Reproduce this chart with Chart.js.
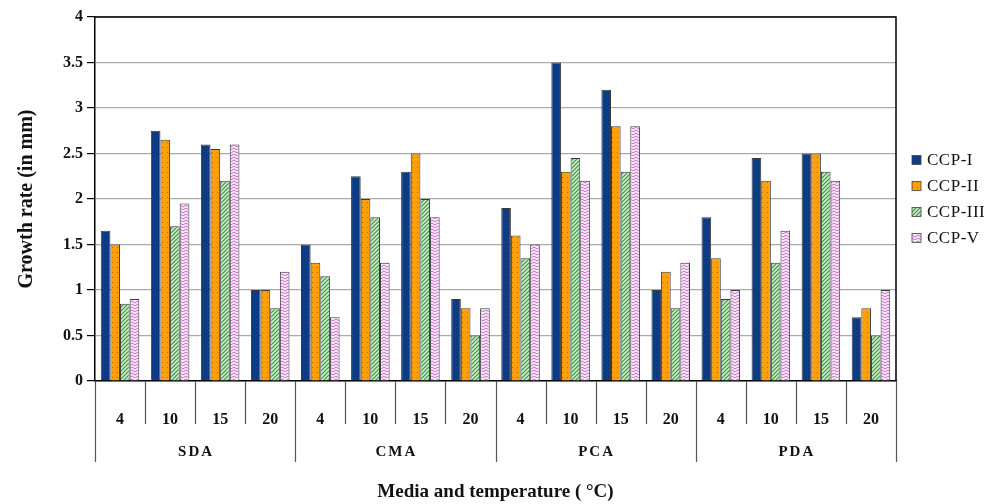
<!DOCTYPE html>
<html>
<head>
<meta charset="utf-8">
<script src="https://cdn.jsdelivr.net/npm/chart.js@4"></script>
<style>
  html, body { margin: 0; padding: 0; background: #fff; }
  #wrap { width: 998px; height: 504px; position: relative; }
</style>
</head>
<body>
<div id="wrap"><canvas id="chart" width="998" height="504"></canvas></div>
<script>
const media = ["SDA", "CMA", "PCA", "PDA"];
const temps = ["4", "10", "15", "20"];
const yTicks = [0, 0.5, 1, 1.5, 2, 2.5, 3, 3.5, 4];

// values in order SDA 4,10,15,20 / CMA ... / PCA ... / PDA ...
const ccp1 = [1.65, 2.75, 2.6, 1.0,  1.5, 2.25, 2.3, 0.9,  1.9, 3.5, 3.2, 1.0,  1.8, 2.45, 2.5, 0.7];
const ccp2 = [1.5, 2.65, 2.55, 1.0,  1.3, 2.0, 2.5, 0.8,   1.6, 2.3, 2.8, 1.2,  1.35, 2.2, 2.5, 0.8];
const ccp3 = [0.85, 1.7, 2.2, 0.8,   1.15, 1.8, 2.0, 0.5,  1.35, 2.45, 2.3, 0.8, 0.9, 1.3, 2.3, 0.5];
const ccp5 = [0.9, 1.95, 2.6, 1.2,   0.7, 1.3, 1.8, 0.8,   1.5, 2.2, 2.8, 1.3,  1.0, 1.65, 2.2, 1.0];

const labels = [];
media.forEach(() => temps.forEach(t => labels.push(t)));

const serif = "'Liberation Serif', 'DejaVu Serif', serif";

// fill patterns like the original Excel chart
function makePattern(bg, size, draw) {
  const c = document.createElement("canvas");
  c.width = size; c.height = size;
  const g = c.getContext("2d");
  g.fillStyle = bg;
  g.fillRect(0, 0, size, size);
  draw(g);
  return g.createPattern(c, "repeat");
}

const fillI = makePattern("#0b3f8c", 4, g => {
  g.fillStyle = "#062a68";
  g.fillRect(0, 0, 1, 1);
  g.fillRect(2, 2, 1, 1);
});
const fillII = makePattern("#ff9f0a", 5, g => {
  g.fillStyle = "#b56a00";
  g.fillRect(2, 2, 1, 1);
});
const fillIII = makePattern("#cdeccd", 4, g => {
  g.strokeStyle = "#3f943f";
  g.lineWidth = 1.2;
  g.beginPath();
  g.moveTo(-1, 1); g.lineTo(1, -1);
  g.moveTo(0, 4); g.lineTo(4, 0);
  g.moveTo(3, 5); g.lineTo(5, 3);
  g.stroke();
});
const fillV = makePattern("#fbecfb", 6, g => {
  g.strokeStyle = "#c766c7";
  g.lineWidth = 1;
  g.beginPath();
  g.moveTo(0, 1); g.lineTo(3, 3); g.lineTo(6, 1);
  g.moveTo(0, 4); g.lineTo(3, 6); g.lineTo(6, 4);
  g.stroke();
});

const series = [
  { label: "CCP-I", data: ccp1, fill: fillI },
  { label: "CCP-II", data: ccp2, fill: fillII },
  { label: "CCP-III", data: ccp3, fill: fillIII },
  { label: "CCP-V", data: ccp5, fill: fillV }
];

// frame, category separators, group labels and legend
const extras = {
  id: "extras",
  afterDraw(chart) {
    const { ctx, chartArea: a, scales: { x } } = chart;
    ctx.save();
    // frame top / right
    ctx.strokeStyle = "#000";
    ctx.lineWidth = 1.5;
    ctx.beginPath();
    ctx.moveTo(a.left, a.top);
    ctx.lineTo(a.right, a.top);
    ctx.lineTo(a.right, a.bottom);
    ctx.stroke();

    // separators below the axis
    const step = (x.getPixelForValue(1) - x.getPixelForValue(0));
    ctx.strokeStyle = "#555";
    ctx.lineWidth = 1.2;
    for (let i = 0; i <= labels.length; i++) {
      const px = Math.round(x.getPixelForValue(0) - step / 2 + i * step) + 0.5;
      const groupEdge = i % temps.length === 0;
      ctx.beginPath();
      ctx.moveTo(px, a.bottom);
      ctx.lineTo(px, groupEdge ? a.bottom + 81 : a.bottom + 43);
      ctx.stroke();
    }

    // group labels
    ctx.fillStyle = "#111";
    ctx.font = "bold 15px " + serif;
    ctx.textAlign = "center";
    ctx.textBaseline = "middle";
    ctx.letterSpacing = "2px";
    media.forEach((m, gi) => {
      const first = x.getPixelForValue(gi * temps.length);
      const last = x.getPixelForValue(gi * temps.length + temps.length - 1);
      ctx.fillText(m, (first + last) / 2 + 1, a.bottom + 71);
    });

    // legend
    ctx.font = "17px " + serif;
    ctx.letterSpacing = "0.5px";
    ctx.textAlign = "left";
    series.forEach((s, i) => {
      const y = 160 + i * 26;
      ctx.fillStyle = s.fill;
      ctx.fillRect(912, y - 4.5, 9, 9);
      ctx.strokeStyle = "#444";
      ctx.lineWidth = 0.8;
      ctx.strokeRect(912, y - 4.5, 9, 9);
      ctx.fillStyle = "#111";
      ctx.fillText(s.label, 927, y + 1);
    });
    ctx.letterSpacing = "0px";
    ctx.restore();
  }
};

new Chart(document.getElementById("chart"), {
  type: "bar",
  data: {
    labels: labels,
    datasets: series.map(s => ({
      label: s.label,
      data: s.data,
      backgroundColor: s.fill,
      borderColor: "#3a3a3a",
      borderWidth: 1,
      categoryPercentage: 0.77,
      barPercentage: 1
    }))
  },
  options: {
    responsive: false,
    animation: false,
    devicePixelRatio: 1,
    layout: { padding: { left: 10, right: 102, top: 17, bottom: 0 } },
    plugins: {
      legend: { display: false },
      tooltip: { enabled: false }
    },
    scales: {
      x: {
        grid: { display: false },
        border: { color: "#000", width: 1.5 },
        ticks: {
          color: "#111",
          font: { family: serif, size: 16, weight: "bold" },
          padding: 21,
          maxRotation: 0,
          autoSkip: false
        },
        title: {
          display: true,
          text: "Media and temperature ( \u00B0C)",
          color: "#111",
          font: { family: serif, size: 19, weight: "bold" },
          padding: { top: 2, bottom: 1 }
        },
        afterFit(scale) { scale.height = 123; }
      },
      y: {
        min: 0,
        max: 4,
        afterBuildTicks(scale) { scale.ticks = yTicks.map(v => ({ value: v })); },
        grid: { color: "#ababab", lineWidth: 1.2, tickLength: 8, tickColor: "#000" },
        border: { color: "#000", width: 1.5 },
        ticks: {
          color: "#111",
          font: { family: serif, size: 16, weight: "bold" },
          padding: 4,
          callback: v => String(v)
        },
        title: {
          display: true,
          text: "Growth rate (in mm)",
          color: "#111",
          font: { family: serif, size: 20, weight: "bold" },
          padding: { top: 5, bottom: 0 }
        },
        afterFit(scale) { scale.width = 85; }
      }
    }
  },
  plugins: [extras]
});
</script>
</body>
</html>
